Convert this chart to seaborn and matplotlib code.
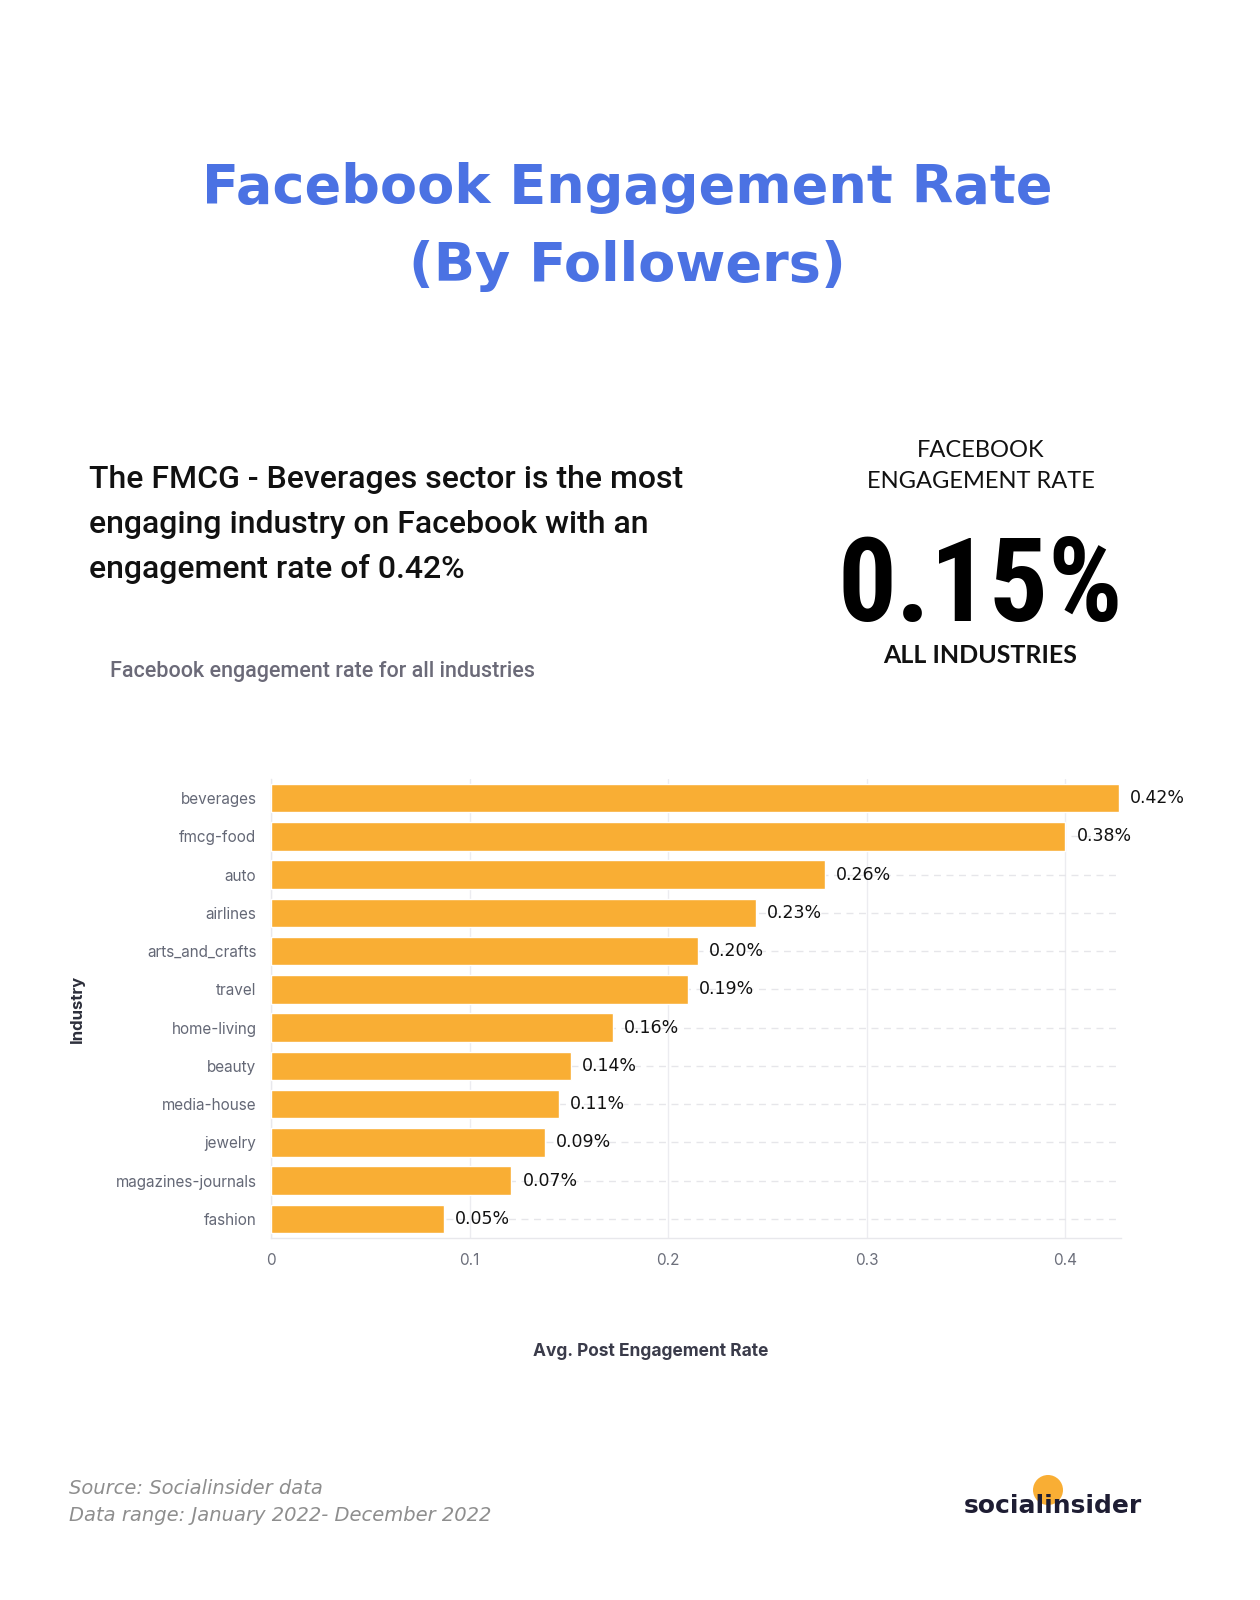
import matplotlib
matplotlib.use("Agg")
import matplotlib.pyplot as plt
from matplotlib.patches import Ellipse
import pandas as pd
import seaborn as sns

# data
industries = ["beverages", "fmcg-food", "auto", "airlines", "arts_and_crafts", "travel",
              "home-living", "beauty", "media-house", "jewelry", "magazines-journals", "fashion"]
bar_values = [0.427, 0.400, 0.279, 0.244, 0.215, 0.210, 0.172, 0.151, 0.145, 0.138, 0.121, 0.087]
value_labels = ["0.42%", "0.38%", "0.26%", "0.23%", "0.20%", "0.19%",
                "0.16%", "0.14%", "0.11%", "0.09%", "0.07%", "0.05%"]
x_ticks = [0, 0.1, 0.2, 0.3, 0.4]
x_tick_labels = ["0", "0.1", "0.2", "0.3", "0.4"]

W, H = 1260, 1600


def fx(px):
    return px / W


def fy(py):
    return 1 - py / H


sns.set_theme(style="white")
plt.rcParams["font.family"] = ["Inter", "DejaVu Sans"]

fig = plt.figure(figsize=(W / 100, H / 100), dpi=100)
fig.patch.set_facecolor("white")

# ---- header texts ----
title_kw = dict(ha="center", va="baseline", fontsize=39, fontweight="bold",
                color="#4b72e3", family="DejaVu Sans")
fig.text(fx(627), fy(203), "Facebook Engagement Rate", **title_kw)
fig.text(fx(627), fy(281), "(By Followers)", **title_kw)

lead = ["The FMCG - Beverages sector is the most",
        "engaging industry on Facebook with an",
        "engagement rate of 0.42%"]
for i, line in enumerate(lead):
    fig.text(fx(89), fy(488 + 45 * i), line, ha="left", va="baseline",
             fontsize=23, fontweight="medium", color="#111111", family=["Roboto", "DejaVu Sans"])

fig.text(fx(110), fy(677), "Facebook engagement rate for all industries", ha="left",
         va="baseline", fontsize=15.5, fontweight="medium", color="#6b6a78",
         family=["Roboto", "DejaVu Sans"])

fig.text(fx(981), fy(457), "FACEBOOK", ha="center", va="baseline", fontsize=17,
         color="#111111", family=["Lato", "DejaVu Sans"])
fig.text(fx(981), fy(488), "ENGAGEMENT RATE", ha="center", va="baseline", fontsize=17,
         color="#111111", family=["Lato", "DejaVu Sans"])
fig.text(fx(980), fy(621), "0.15%", ha="center", va="baseline", fontsize=84,
         fontweight="bold", fontstretch="condensed", color="#000000",
         family=["Roboto Condensed", "DejaVu Sans Condensed", "Liberation Sans Narrow", "Roboto"])
fig.text(fx(980), fy(663), "ALL INDUSTRIES", ha="center", va="baseline", fontsize=18,
         fontweight="bold", color="#111111", family=["Lato", "DejaVu Sans"])

# ---- chart ----
ax = fig.add_axes([fx(271), fy(1238), (1121 - 271) / W, (1238 - 779) / H])
df = pd.DataFrame({"Industry": industries, "Rate": bar_values})
sns.barplot(data=df, x="Rate", y="Industry", orient="h", color="#f9ae34",
            saturation=1, width=0.74, ax=ax, zorder=3)

ax.set_axisbelow(True)
ax.xaxis.grid(True, color="#ececf0", lw=1)
ax.yaxis.grid(True, color="#e6e6ea", lw=1, ls=(0, (5, 4)))
ax.set_xlim(0, 0.428)
ax.set_xticks(x_ticks)
ax.set_xticklabels(x_tick_labels)
ax.tick_params(axis="x", length=0, pad=11, labelsize=11, labelcolor="#6c6f7b")
ax.tick_params(axis="y", length=0, pad=10.5, labelsize=11, labelcolor="#646876")
for s in ["top", "right"]:
    ax.spines[s].set_visible(False)
for s in ["left", "bottom"]:
    ax.spines[s].set_color("#e8e8ec")
    ax.spines[s].set_linewidth(1)

ax.bar_label(ax.containers[0], labels=value_labels, padding=8, fontsize=12.5,
             color="#111111", family="DejaVu Sans")

ax.set_ylabel("Industry", fontsize=12, fontweight="bold", color="#2d2f3b", va="center")
ax.yaxis.set_label_coords((77 - 271) / 850, 0.5)
ax.set_xlabel("Avg. Post Engagement Rate", fontsize=12.5, fontweight="bold",
              color="#3a3b4a", va="center")
ax.xaxis.set_label_coords((651 - 271) / 850, -(1351 - 1238) / 459)

# ---- footer ----
foot_kw = dict(ha="left", va="baseline", fontsize=14, fontstyle="italic",
               fontweight="light", color="#8e8e8e", family="DejaVu Sans")
fig.text(fx(69), fy(1494), "Source: Socialinsider data", **foot_kw)
fig.text(fx(69), fy(1521), "Data range: January 2022- December 2022", **foot_kw)

fig.patches.append(Ellipse((fx(1048), fy(1490)), 30 / W, 30 / H, transform=fig.transFigure,
                           facecolor="#f9ae34", edgecolor="none", zorder=1))
fig.text(fx(1053), fy(1513), "socialinsider", ha="center", va="baseline", fontsize=18,
         fontweight="bold", color="#1e1d33", family="DejaVu Sans", zorder=2)

fig.savefig("out.png", dpi=100, facecolor="white")
